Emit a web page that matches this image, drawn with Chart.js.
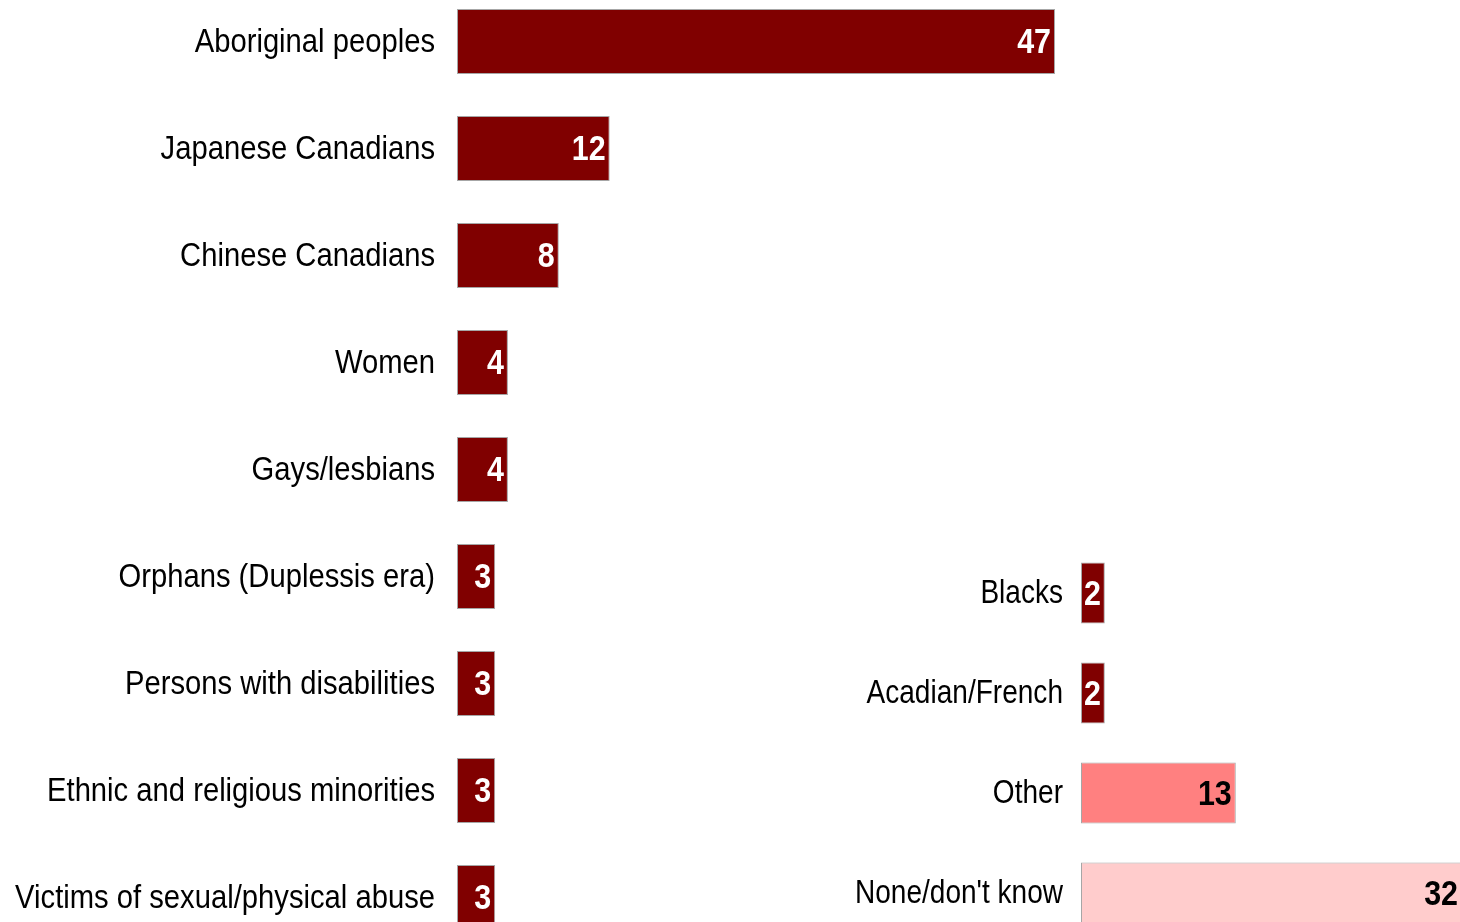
<!DOCTYPE html>
<html>
<head>
<meta charset="utf-8">
<script src="https://cdn.jsdelivr.net/npm/chart.js@4/dist/chart.umd.min.js"></script>
<style>
  html, body { margin: 0; padding: 0; background: #fff; overflow: hidden; width: 1460px; height: 922px; }
  #wrap { position: relative; width: 1460px; height: 922px; overflow: hidden; }
  canvas { position: absolute; }
  #groups { left: 0; top: -12px; }
  #others { left: 820px; top: 543px; }
</style>
</head>
<body>
<div id="wrap">
  <canvas id="groups" width="1060" height="963"></canvas>
  <canvas id="others" width="650" height="400"></canvas>
</div>
<script>
// Groups named (percent of respondents)
const groupLabels = [
  'Aboriginal peoples',
  'Japanese Canadians',
  'Chinese Canadians',
  'Women',
  'Gays/lesbians',
  'Orphans (Duplessis era)',
  'Persons with disabilities',
  'Ethnic and religious minorities',
  'Victims of sexual/physical abuse'
];
const groupValues = [47, 12, 8, 4, 4, 3, 3, 3, 3];

// Remaining answers
const otherLabels = ['Blacks', 'Acadian/French', 'Other', "None/don't know"];
const otherValues = [2, 2, 13, 32];

const DARK = '#800000';
const otherFills = [DARK, DARK, '#FF8080', '#FFCCCC'];
const otherText = ['#ffffff', '#ffffff', '#000000', '#000000'];

const categoryFont = "33px 'Liberation Sans', Arial, sans-serif";
const valueFont = "bold 35px 'Liberation Sans', Arial, sans-serif";
const VAL_NARROW = 0.87;   // horizontal squeeze for value digits

// Category names, right-aligned beside the y axis at each tick, condensed
const categoryNames = {
  id: 'categoryNames',
  afterDraw(chart, args, opts) {
    const ctx = chart.ctx;
    const y = chart.scales.y;
    chart.data.labels.forEach((label, i) => {
      ctx.save();
      ctx.font = categoryFont;
      ctx.textAlign = 'right';
      ctx.textBaseline = 'middle';
      ctx.fillStyle = '#000';
      ctx.translate(chart.chartArea.left - opts.gap, y.getPixelForTick(i) + 1);
      ctx.scale(opts.squeeze, 1);
      ctx.fillText(label, 0, 0);
      ctx.restore();
    });
  }
};

// Writes each bar's value just inside its right end, in a condensed bold face
const valueLabels = {
  id: 'valueLabels',
  afterDatasetsDraw(chart, args, opts) {
    const ctx = chart.ctx;
    const meta = chart.getDatasetMeta(0);
    const data = chart.data.datasets[0].data;
    meta.data.forEach((bar, i) => {
      ctx.save();
      ctx.font = valueFont;
      ctx.textAlign = 'right';
      ctx.textBaseline = 'middle';
      ctx.fillStyle = opts.colors[i];
      ctx.translate(bar.x - 4, bar.y + 2);
      ctx.scale(VAL_NARROW, 1);
      ctx.fillText(String(data[i]), 0, 0);
      ctx.restore();
    });
  }
};

function makeChart(id, labels, values, fills, textColors, axisWidth, gap, squeeze, xMax, rightPad, barFrac) {
  return new Chart(document.getElementById(id), {
    type: 'bar',
    data: {
      labels: labels,
      datasets: [{
        data: values,
        backgroundColor: fills,
        borderColor: '#A6A6A6',
        borderWidth: 1,
        borderSkipped: false,
        categoryPercentage: 1,
        barPercentage: barFrac
      }]
    },
    options: {
      indexAxis: 'y',
      responsive: false,
      animation: false,
      devicePixelRatio: 1,
      layout: { padding: { left: 0, right: rightPad, top: 0, bottom: 0 } },
      plugins: {
        legend: { display: false },
        tooltip: { enabled: false },
        valueLabels: { colors: textColors },
        categoryNames: { gap: gap, squeeze: squeeze }
      },
      scales: {
        x: { display: false, min: 0, max: xMax },
        y: {
          grid: { display: false, drawTicks: false },
          border: { display: false },
          ticks: { display: false },
          afterFit(scale) {
            scale.width = axisWidth;
            scale.paddingTop = 0;
            scale.paddingBottom = 0;
          }
        }
      }
    },
    plugins: [valueLabels, categoryNames]
  });
}

makeChart('groups', groupLabels, groupValues, DARK,
  groupValues.map(() => '#ffffff'), 457, 22, 0.885, 47, 5, 0.607);
makeChart('others', otherLabels, otherValues, otherFills,
  otherText, 261, 18, 0.85, 32, 8, 0.61);
</script>
</body>
</html>
